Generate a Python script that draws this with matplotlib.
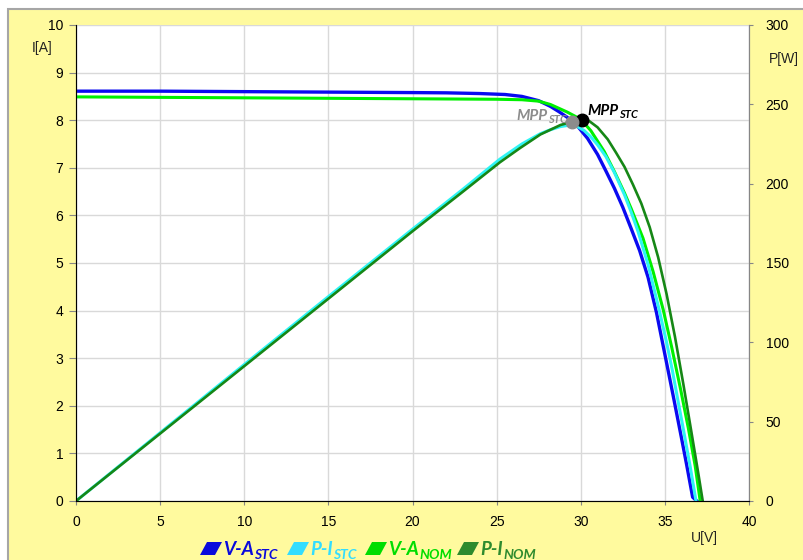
import matplotlib.pyplot as plt
from matplotlib.patches import Polygon, Rectangle

# I-V curve, STC (left axis, A)
v_ia_stc = [0, 5, 10, 15, 20, 22, 24, 25.5, 26.5, 27.5, 28.2, 28.7, 29.2, 29.8, 30.4, 31.0, 31.5,
            32.0, 32.5, 33.0, 33.5, 34.0, 34.5, 35.0, 35.5, 36.0, 36.3, 36.65, 36.9]
i_ia_stc = [8.61, 8.61, 8.60, 8.59, 8.58, 8.575, 8.56, 8.54, 8.50, 8.41, 8.29, 8.18, 8.06, 7.88, 7.62, 7.28, 6.93,
            6.57, 6.17, 5.72, 5.26, 4.70, 3.96, 3.08, 2.20, 1.30, 0.75, 0.08, 0.0]

# P-V curve, STC (right axis, W)
v_p_stc = [0, 5, 10, 15, 20, 23, 25.2, 26.5, 27.6, 28.2, 28.8, 29.3, 29.8, 30.2, 30.6, 31.0, 31.5,
           32.0, 32.6, 33.0, 33.4, 34.0, 34.65, 35.1, 35.45, 35.8, 36.05, 36.5, 36.85]
p_stc = [0, 43, 86, 128.8, 171.3, 196.5, 215.5, 225, 231.5, 234, 236, 236.8, 236, 233.5, 229.5, 224.5, 217,
         207, 193, 182, 170, 149, 121, 100, 82, 62, 48, 22, 0]

# I-V curve, NOM (left axis, A)
v_ia_nom = [0, 5, 10, 15, 20, 25, 26.5, 27.5, 28.2, 29.2, 30.0, 30.6, 31.4, 32.0, 32.6, 33.0,
            33.7, 34.3, 34.9, 35.4, 35.95, 36.4, 36.8, 37.1]
i_ia_nom = [8.49, 8.48, 8.47, 8.46, 8.45, 8.44, 8.43, 8.40, 8.33, 8.17, 8.02, 7.78, 7.34, 6.92, 6.47, 6.14,
            5.52, 4.82, 4.02, 3.24, 2.32, 1.52, 0.74, 0.0]

# P-V curve, NOM (right axis, W)
v_p_nom = [0, 5, 10, 15, 20, 23, 25.2, 26.4, 27.6, 28.8, 29.5, 30.0, 30.5, 31.0, 31.6, 32.1, 32.6,
           33.1, 33.6, 34.1, 34.6, 35.1, 35.6, 36.1, 36.6, 37.0, 37.25]
p_nom = [0, 42.5, 85, 127.5, 170, 195, 213.5, 222.5, 231, 237, 239, 240, 239.5, 235.5, 228, 219.5, 210.6,
         199.5, 187.5, 172.5, 153.6, 130.5, 103.5, 73.5, 42, 16.5, 0]

# maximum power points (V, W): black point, gray point
mpp_v = [30.05, 29.46]
mpp_p = [240.0, 238.8]

x_ticks = list(range(0, 41, 5))
i_ticks = list(range(0, 11))
p_ticks = list(range(0, 301, 50))

legend_labels = [('V-A', 'STC'), ('P-I', 'STC'), ('V-A', 'NOM'), ('P-I', 'NOM')]

c_blue = '#0A0AF0'
c_cyan = '#2EF4F4'
c_green = '#00F000'
c_dgreen = '#168716'
legend_colors = ['#0A0ADC', '#33DDFF', '#00DD00', '#2E8B2E']
bg = '#FFFA9E'
W, H = 804, 560


def fx(px):
    return px / W


def fy(py):
    return 1 - py / H


plt.rcParams['font.family'] = ['Liberation Sans', 'DejaVu Sans']
lab_font = ['Lato', 'DejaVu Sans']
lab_kw = dict(family=lab_font, weight='bold', style='italic')

fig = plt.figure(figsize=(W / 100, H / 100), dpi=100)
fig.patch.set_facecolor('white')
fig.add_artist(Rectangle((fx(8), -0.01), 1, fy(9) + 0.01, transform=fig.transFigure,
                         facecolor=bg, edgecolor='#A6A6A6', lw=1.5, zorder=-5))

ax = fig.add_axes([fx(76), fy(501), (749 - 76) / W, (501 - 25) / H])
ax.set_facecolor('white')
ax.set_xlim(0, 40)
ax.set_ylim(0, 10)
ax.set_xticks(x_ticks)
ax.set_yticks(i_ticks)
ax.grid(True, color='#D9D9D9', lw=1)
ax.set_axisbelow(True)
for s in ['left', 'bottom', 'right']:
    ax.spines[s].set_color('#868686')
ax.spines['top'].set_visible(False)
ax.tick_params(axis='y', direction='out', length=5, color='#868686', labelsize=10, pad=4)
ax.tick_params(axis='x', direction='out', length=3, color='#868686', labelsize=10, pad=7)

ax2 = ax.twinx()
ax2.set_ylim(0, 300)
ax2.set_yticks(p_ticks)
ax2.spines['top'].set_visible(False)
ax2.spines['right'].set_color('#868686')
ax2.tick_params(axis='y', direction='out', length=3, color='#868686', labelsize=10, pad=9)

ax.plot(v_ia_stc, i_ia_stc, color=c_blue, lw=2.4, solid_joinstyle='round')
ax.plot(v_ia_nom, i_ia_nom, color=c_green, lw=2.2, solid_joinstyle='round')
ax2.plot(v_p_stc, p_stc, color=c_cyan, lw=2.2, solid_joinstyle='round')
ax2.plot(v_p_nom, p_nom, color=c_dgreen, lw=1.9, solid_joinstyle='round')

ax2.plot(mpp_v[0], mpp_p[0], 'o', color='black', ms=9, zorder=5)
ax2.plot(mpp_v[1], mpp_p[1], 'o', color='#8C8C8C', ms=9, zorder=5)

# black MPP label (right of point)
t = ax2.annotate('MPP', xy=(mpp_v[0], mpp_p[0]), xytext=(4, 3.5), textcoords='offset points',
                 ha='left', va='baseline', fontsize=11, color='black', **lab_kw)
ax2.annotate('STC', xy=(1, 0), xycoords=t, xytext=(0.3, -1.5), textcoords='offset points',
             ha='left', va='bottom', fontsize=8, color='black', **lab_kw)

# gray MPP label (left of point)
s = ax2.annotate('STC', xy=(mpp_v[1], mpp_p[1]), xytext=(-3.5, -0.5), textcoords='offset points',
                 ha='right', va='baseline', fontsize=8, color='#8C8C8C', **lab_kw)
ax2.annotate('MPP', xy=(0, 0), xycoords=s, xytext=(-0.3, 1.5), textcoords='offset points',
             ha='right', va='bottom', fontsize=11, color='#8C8C8C', **lab_kw)

# axis titles
fig.text(fx(42), fy(48), 'I[A]', ha='center', va='center', fontsize=10, color='#222222')
fig.text(fx(784), fy(59), 'P[W]', ha='center', va='center', fontsize=10, color='#222222')
fig.text(fx(704), fy(538), 'U[V]', ha='center', va='center', fontsize=10, color='#222222')

# legend
marker_x = [200, 287, 365, 457]
for (main, sub), col, mx in zip(legend_labels, legend_colors, marker_x):
    fig.add_artist(Polygon([(fx(mx), fy(555)), (fx(mx + 7), fy(542)),
                            (fx(mx + 22), fy(542)), (fx(mx + 15), fy(555))],
                           closed=True, transform=fig.transFigure,
                           facecolor=col, edgecolor='none'))
    tm = fig.text(fx(mx + 23), fy(555), main, ha='left', va='baseline', fontsize=13.5,
                  color=col, **lab_kw)
    fig.add_artist(plt.Annotation(sub, xy=(1, 0), xycoords=tm, xytext=(0.3, -2),
                                  textcoords='offset points', ha='left', va='bottom',
                                  fontsize=10, color=col, **lab_kw))

fig.savefig('out.png', dpi=100, facecolor=fig.get_facecolor())
